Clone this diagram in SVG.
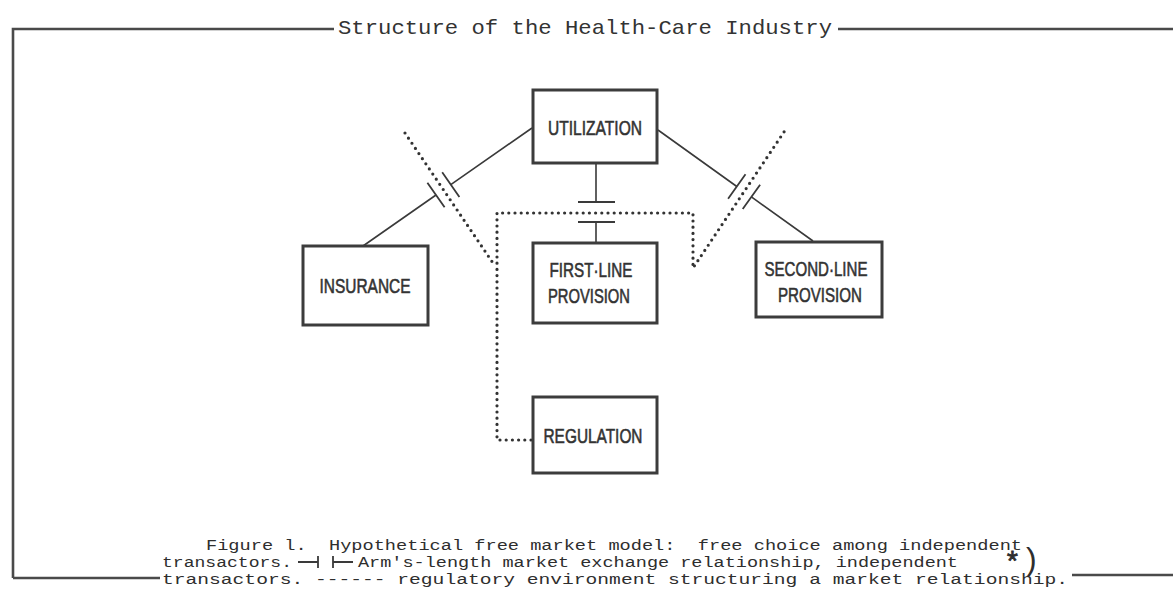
<svg xmlns="http://www.w3.org/2000/svg" width="1173" height="591" viewBox="0 0 1173 591">
  <style>
    .frame { fill: none; stroke: #4a4a4a; stroke-width: 2.6; stroke-linecap: butt; }
    .box { fill: #ffffff; stroke: #3c3c3c; stroke-width: 3; }
    .label { font-family: "Liberation Sans", Arial, sans-serif; font-size: 21px; fill: #333333; stroke: #333333; stroke-width: 0.6; text-anchor: middle; }
    .link { fill: none; stroke: #3a3a3a; stroke-width: 1.6; }
    .tick { fill: none; stroke: #3a3a3a; stroke-width: 1.8; }
    .dots { fill: none; stroke: #333333; stroke-width: 3.2; stroke-linecap: round; stroke-dasharray: 0 6.2; }
    .title { font-family: "Liberation Mono", "DejaVu Sans Mono", monospace; font-size: 21px; fill: #333333; }
    .caption { font-family: "Liberation Mono", "DejaVu Sans Mono", monospace; font-size: 15.5px; fill: #2e2e2e; white-space: pre; }
    .star { font-family: "Liberation Mono", "DejaVu Sans Mono", monospace; font-size: 28px; fill: #2e2e2e; stroke: #2e2e2e; stroke-width: 0.8; }
  </style>

  <!-- outer frame with title break -->
  <g id="frame">
    <path class="frame" d="M13,578 V29 H334"/>
    <path class="frame" d="M838,29 H1173"/>
    <path class="frame" d="M13,578 H160"/>
    <path class="frame" d="M1072,575 H1173"/>
    <text class="title" x="338" y="34" textLength="494" lengthAdjust="spacingAndGlyphs">Structure of the Health-Care Industry</text>
  </g>

  <!-- connectors: exchange links, tick pairs, regulatory dotted boundary -->
  <g id="connectors">
    <path class="link" d="M532,128 L450.8,184.6 M436,195 L363,246"/>
    <path class="tick" d="M442.2,172.3 L459.4,196.9 M427.4,182.7 L444.6,207.3"/>

    <path class="link" d="M658,130 L736.8,186.5 M751.4,196.9 L813,241"/>
    <path class="tick" d="M728.1,198.7 L745.5,174.3 M742.7,209.1 L760.1,184.7"/>

    <path class="link" d="M596,163 V202 M596,222 V243"/>
    <path class="tick" d="M578,202 H615 M578,222 H615"/>

    <path class="dots" d="M405,133 L495,266"/>
    <path class="dots" d="M531,440 H497 V213 H693 V268 L786,129"/>
  </g>

  <g id="utilization">
    <rect class="box" x="533" y="90" width="124" height="73"/>
    <text class="label" x="595" y="135" textLength="94" lengthAdjust="spacingAndGlyphs">UTILIZATION</text>
  </g>

  <g id="insurance">
    <rect class="box" x="303" y="246" width="125" height="79"/>
    <text class="label" x="365" y="293" textLength="91" lengthAdjust="spacingAndGlyphs">INSURANCE</text>
  </g>

  <g id="first-line-provision">
    <rect class="box" x="533" y="243" width="124" height="80"/>
    <text class="label" x="591" y="277" textLength="83" lengthAdjust="spacingAndGlyphs">FIRST·LINE</text>
    <text class="label" x="589" y="303" textLength="82" lengthAdjust="spacingAndGlyphs">PROVISION</text>
  </g>

  <g id="second-line-provision">
    <rect class="box" x="756" y="242" width="126" height="75"/>
    <text class="label" x="816" y="276" textLength="103" lengthAdjust="spacingAndGlyphs">SECOND·LINE</text>
    <text class="label" x="820" y="302" textLength="84" lengthAdjust="spacingAndGlyphs">PROVISION</text>
  </g>

  <g id="regulation">
    <rect class="box" x="533" y="397" width="124" height="76"/>
    <text class="label" x="593" y="443" textLength="99" lengthAdjust="spacingAndGlyphs">REGULATION</text>
  </g>

  <!-- caption -->
  <g id="caption">
    <text class="caption" x="206" y="550" textLength="816" lengthAdjust="spacingAndGlyphs">Figure l.  Hypothetical free market model:  free choice among independent</text>
    <text class="caption" x="162" y="567" textLength="130" lengthAdjust="spacingAndGlyphs">transactors.</text>
    <path class="tick" d="M298,562 H318 M318,556 V568 M333,556 V568 M333,562 H353" stroke-width="1.6"/>
    <text class="caption" x="358" y="567" textLength="600" lengthAdjust="spacingAndGlyphs">Arm's-length market exchange relationship, independent</text>
    <text class="star" x="1004" y="571">*</text>
    <text x="1026" y="570" font-family="Liberation Sans, Arial, sans-serif" font-size="32" fill="#2e2e2e">)</text>
    <text class="caption" x="162" y="584" textLength="906" lengthAdjust="spacingAndGlyphs">transactors. ------ regulatory environment structuring a market relationship.</text>
  </g>
</svg>
